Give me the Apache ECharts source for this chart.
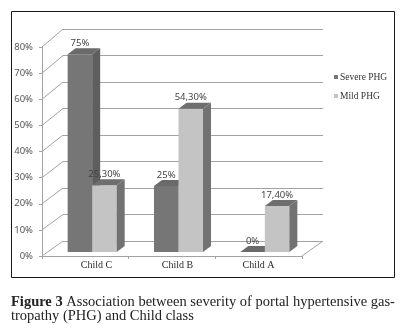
<!DOCTYPE html>
<html>
<head>
<meta charset="utf-8">
<script src="https://cdn.jsdelivr.net/npm/echarts@6/dist/echarts.min.js"></script>
<style>
  html, body { margin: 0; padding: 0; background: #fff; }
  #chart { width: 409px; height: 335px; }
</style>
</head>
<body>
<div id="chart"></div>
<script>
// Data
const categories = ['Child C', 'Child B', 'Child A'];
const seriesNames = ['Severe PHG', 'Mild PHG'];
const severeValues = [75, 25, 0];
const mildValues = [25.3, 54.3, 17.4];
const yMin = 0, yMax = 80, yStep = 10;
const wallTicks = [0, 10, 20, 30, 40, 50, 60, 70, 80];

// Planes of the pseudo-3D box: front edge, back wall, bar plane, category labels
const FRONT = { left: 42, top: 47, width: 260, height: 209 };
const BACK = { left: 63, top: 29, width: 260, height: 212 };
const BARS = { left: 49, top: 41, width: 259, height: 211 };
const LABELS = { left: 56, top: 47, width: 243, height: 209 };
const BAR_DX = 8, BAR_DY = -6;   // bar depth
const BAR_FRAC = 0.284;          // bar width as a share of the category band

const GRID_COLOR = '#a3a3a3';
const faceColors = [
  { front: '#767676', side: '#5e5e5e', top: '#6a6a6a' },
  { front: '#c4c4c4', side: '#727272', top: '#6e6e6e' }
];

function fmtPct(v) {
  return (Number.isInteger(v) ? String(v) : v.toFixed(2).replace('.', ',')) + '%';
}

function barRenderer(k) {
  return function (params, api) {
    const ci = api.value(0), v = api.value(1);
    const base = api.coord([ci, 0]);
    const top = api.coord([ci, v]);
    const bw = api.size([1, 0])[0] * BAR_FRAC;
    const x0 = base[0] - bw + k * bw, x1 = x0 + bw;
    const yb = base[1], yt = top[1];
    const c = faceColors[k];
    return {
      type: 'group',
      children: [
        { type: 'polygon', shape: { points: [[x0, yt], [x1, yt], [x1, yb], [x0, yb]] }, style: { fill: c.front } },
        { type: 'polygon', shape: { points: [[x1, yt], [x1 + BAR_DX, yt + BAR_DY], [x1 + BAR_DX, yb + BAR_DY], [x1, yb]] }, style: { fill: c.side } },
        { type: 'polygon', shape: { points: [[x0, yt], [x0 + BAR_DX, yt + BAR_DY], [x1 + BAR_DX, yt + BAR_DY], [x1, yt]] }, style: { fill: c.top } },
        { type: 'text', style: { text: fmtPct(v), x: (x0 + x1) / 2, y: yt - 11, align: 'center', verticalAlign: 'middle', fill: '#444', font: '9.5px "Noto Sans"' } }
      ]
    };
  };
}

// Diagonal lines joining the front axis to the back wall, plus the floor's right edge
function wallRenderer(params, api) {
  const v = api.value(1);
  const yF = api.coord([0, v])[1];
  const yB = BACK.top + (yF - FRONT.top) * BACK.height / FRONT.height;
  const style = { stroke: GRID_COLOR, lineWidth: 1, fill: null };
  const children = [
    { type: 'line', shape: { x1: FRONT.left, y1: yF, x2: BACK.left, y2: yB }, style: style }
  ];
  if (v === yMin) {
    children.push({ type: 'line', shape: { x1: FRONT.left + FRONT.width, y1: yF, x2: BACK.left + BACK.width, y2: yB }, style: style });
  }
  return { type: 'group', children: children };
}

const hiddenAxis = { show: false };

const chart = echarts.init(document.getElementById('chart'), null, { renderer: 'canvas' });
chart.setOption({
  backgroundColor: '#fff',
  animation: false,
  grid: [FRONT, BACK, BARS, LABELS].map(g => Object.assign({ containLabel: false }, g)),
  xAxis: [
    {
      gridIndex: 0, type: 'category', data: categories,
      axisLine: { show: true, lineStyle: { color: GRID_COLOR } },
      axisTick: { show: true, length: 3, lineStyle: { color: GRID_COLOR } },
      axisLabel: { show: false }, splitLine: { show: false }
    },
    { gridIndex: 1, type: 'category', data: categories, show: false },
    { gridIndex: 2, type: 'category', data: categories, show: false },
    {
      gridIndex: 3, type: 'category', data: categories,
      axisLine: { show: false }, axisTick: { show: false },
      axisLabel: { show: true, margin: 4, color: '#2a2a2a', fontFamily: 'Liberation Serif', fontSize: 10 }
    }
  ],
  yAxis: [
    {
      gridIndex: 0, type: 'value', min: yMin, max: yMax, interval: yStep,
      axisLine: { show: true, lineStyle: { color: GRID_COLOR } },
      axisTick: { show: true, length: 3, lineStyle: { color: GRID_COLOR } },
      axisLabel: { show: true, margin: 9, formatter: '{value}%', color: '#555', fontFamily: 'Noto Sans', fontSize: 9.5 },
      splitLine: { show: false }
    },
    {
      gridIndex: 1, type: 'value', min: yMin, max: yMax, interval: yStep,
      axisLine: { show: false }, axisTick: { show: false }, axisLabel: { show: false },
      splitLine: { show: true, lineStyle: { color: GRID_COLOR, width: 1 } }
    },
    { gridIndex: 2, type: 'value', min: yMin, max: yMax, interval: yStep, show: false },
    { gridIndex: 3, type: 'value', min: yMin, max: yMax, interval: yStep, show: false }
  ],
  legend: {
    orient: 'vertical', left: 329, top: 67,
    itemWidth: 4, itemHeight: 4, itemGap: 9, icon: 'rect',
    textStyle: { fontFamily: 'Liberation Serif', fontSize: 9.5, color: '#333', padding: [0, 0, 0, -3] },
    data: seriesNames
  },
  series: [
    {
      type: 'custom', name: 'walls', xAxisIndex: 0, yAxisIndex: 0, z: 1, silent: true,
      renderItem: wallRenderer,
      data: wallTicks.map(v => [0, v])
    },
    {
      type: 'custom', name: seriesNames[0], xAxisIndex: 2, yAxisIndex: 2, z: 3, silent: true,
      itemStyle: { color: faceColors[0].front },
      renderItem: barRenderer(0),
      data: severeValues.map((v, i) => [i, v])
    },
    {
      type: 'custom', name: seriesNames[1], xAxisIndex: 2, yAxisIndex: 2, z: 4, silent: true,
      itemStyle: { color: faceColors[1].front },
      renderItem: barRenderer(1),
      data: mildValues.map((v, i) => [i, v])
    }
  ],
  graphic: [
    {
      type: 'rect', silent: true,
      shape: { x: 11.5, y: 11.5, width: 383, height: 266 },
      style: { fill: 'none', stroke: '#1a1a1a', lineWidth: 1 }
    },
    {
      type: 'text', left: 11, top: 295, silent: true,
      style: {
        text: '{b|Figure 3}{n| Association between severity of portal hypertensive gas-}\n{n|tropathy (PHG) and Child class}',
        rich: {
          b: { fontWeight: 'bold', fontSize: 14.5, fontFamily: 'Liberation Serif', fill: '#222', lineHeight: 14 },
          n: { fontSize: 14.5, fontFamily: 'Liberation Serif', fill: '#222', lineHeight: 14 }
        }
      }
    }
  ]
});
</script>
</body>
</html>
